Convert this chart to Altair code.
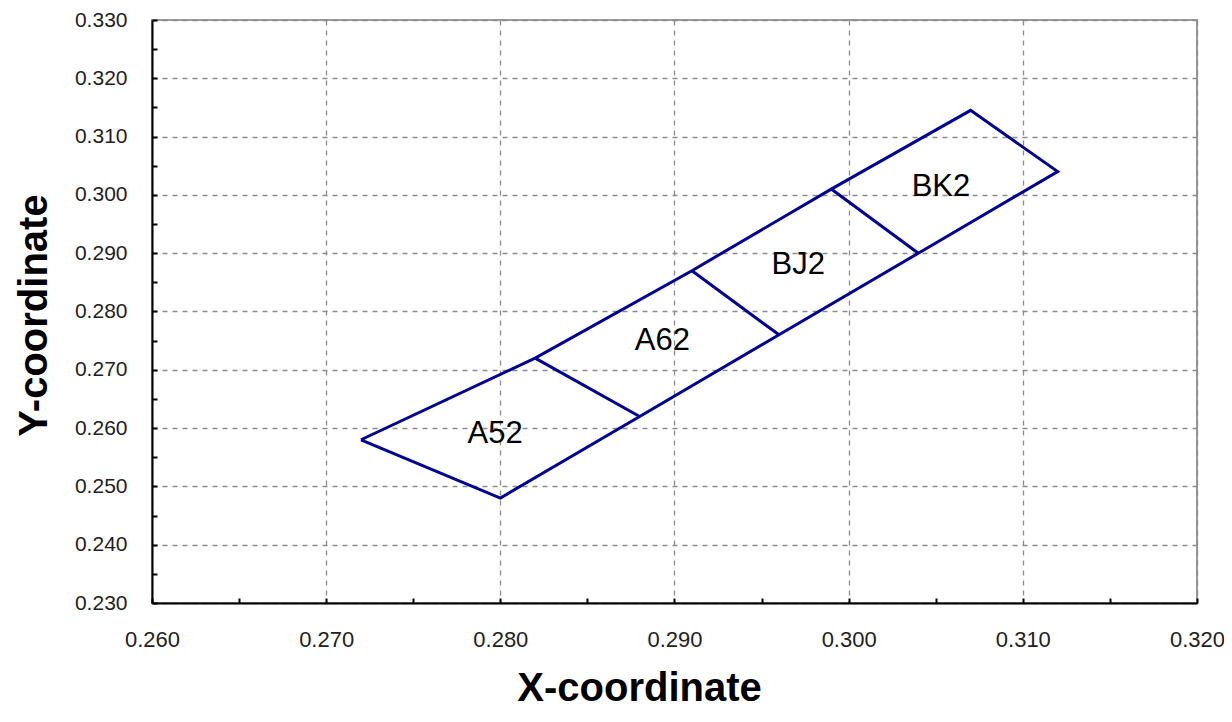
import altair as alt
import pandas as pd

# Outline of the four bins (closed polygon)
outline_x = [0.272, 0.280, 0.288, 0.296, 0.304, 0.312, 0.307, 0.299, 0.291, 0.282, 0.272]
outline_y = [0.258, 0.248, 0.262, 0.276, 0.290, 0.304, 0.3145, 0.301, 0.287, 0.272, 0.258]

# Divider segments between bins
divider_x = [[0.282, 0.288], [0.291, 0.296], [0.299, 0.304]]
divider_y = [[0.272, 0.262], [0.287, 0.276], [0.301, 0.290]]

# Bin labels
label_names = ["A52", "A62", "BJ2", "BK2"]
label_x = [0.2797, 0.2893, 0.2971, 0.3053]
label_y = [0.2590, 0.2749, 0.2879, 0.3013]

# Axis ticks
x_major = [0.26, 0.27, 0.28, 0.29, 0.30, 0.31, 0.32]
y_major = [0.23, 0.24, 0.25, 0.26, 0.27, 0.28, 0.29, 0.30, 0.31, 0.32, 0.33]
x_minor = [0.260, 0.265, 0.270, 0.275, 0.280, 0.285, 0.290, 0.295, 0.300, 0.305, 0.310, 0.315, 0.320]
y_minor = [0.230, 0.235, 0.240, 0.245, 0.250, 0.255, 0.260, 0.265, 0.270, 0.275, 0.280,
           0.285, 0.290, 0.295, 0.300, 0.305, 0.310, 0.315, 0.320, 0.325, 0.330]

rows = []
for i, (xv, yv) in enumerate(zip(outline_x, outline_y)):
    rows.append({"x": xv, "y": yv, "seg": "outline", "ord": i})
for k, (xs, ys) in enumerate(zip(divider_x, divider_y)):
    for i, (xv, yv) in enumerate(zip(xs, ys)):
        rows.append({"x": xv, "y": yv, "seg": f"div{k}", "ord": i})
lines_df = pd.DataFrame(rows)
labels_df = pd.DataFrame({"name": label_names, "x": label_x, "y": label_y})

W, H = 1045, 583
FONT = "Liberation Sans"
xscale = alt.Scale(domain=[0.26, 0.32], nice=False, zero=False)
yscale = alt.Scale(domain=[0.23, 0.33], nice=False, zero=False)

main_x_axis = alt.Axis(
    values=x_major, format=".3f", grid=True, gridColor="#8c8c8c", gridDash=[5, 5],
    gridWidth=1.3, domainColor="#000000", domainWidth=2, ticks=False,
    labelFont=FONT, labelFontSize=22, labelColor="#222222", labelPadding=26,
    labelFlush=False, title="X-coordinate", titleFont=FONT, titleFontSize=40,
    titleFontWeight="bold", titleColor="#000000", titleX=487, titleY=97,
    titleBaseline="alphabetic", titleAlign="center",
)
main_y_axis = alt.Axis(
    values=y_major, format=".3f", grid=True, gridColor="#8c8c8c", gridDash=[5, 5],
    gridWidth=1.3, domainColor="#000000", domainWidth=2, ticks=False,
    labelFont=FONT, labelFontSize=21, labelColor="#222222", labelPadding=25,
    labelFlush=False, title="Y-coordinate", titleFont=FONT, titleFontSize=40,
    titleFontWeight="bold", titleColor="#000000", titleX=-106, titleY=295,
    titleAngle=-90, titleBaseline="alphabetic", titleAlign="center",
)

lines = alt.Chart(lines_df).mark_line(color="#000096", strokeWidth=3).encode(
    x=alt.X("x:Q", scale=xscale, axis=main_x_axis),
    y=alt.Y("y:Q", scale=yscale, axis=main_y_axis),
    detail="seg:N",
    order="ord:Q",
)

tick_x_axis = alt.Axis(
    orient="top", offset=-H, values=x_minor, labels=False, grid=False, domain=False,
    ticks=True, tickSize=5, tickColor="#000000", tickWidth=2, title="",
)
tick_y_axis = alt.Axis(
    orient="right", offset=-W, values=y_minor, labels=False, grid=False, domain=False,
    ticks=True, tickSize=5, tickColor="#000000", tickWidth=2, title="",
)

texts = alt.Chart(labels_df).mark_text(
    font=FONT, fontSize=31, color="#000000", align="center", baseline="middle"
).encode(
    x=alt.X("x:Q", scale=xscale, axis=tick_x_axis),
    y=alt.Y("y:Q", scale=yscale, axis=tick_y_axis),
    text="name:N",
)

chart = (
    alt.layer(lines, texts)
    .resolve_axis(x="independent", y="independent")
    .properties(
        width=W, height=H,
        autosize=alt.AutoSizeParams(type="none"),
        padding={"left": 144, "top": 12, "right": 27, "bottom": 105},
        background="#ffffff",
    )
    .configure_view(stroke="#999999", strokeWidth=2)
)

chart.save("out.html", embed_options={"renderer": "svg", "actions": False})
